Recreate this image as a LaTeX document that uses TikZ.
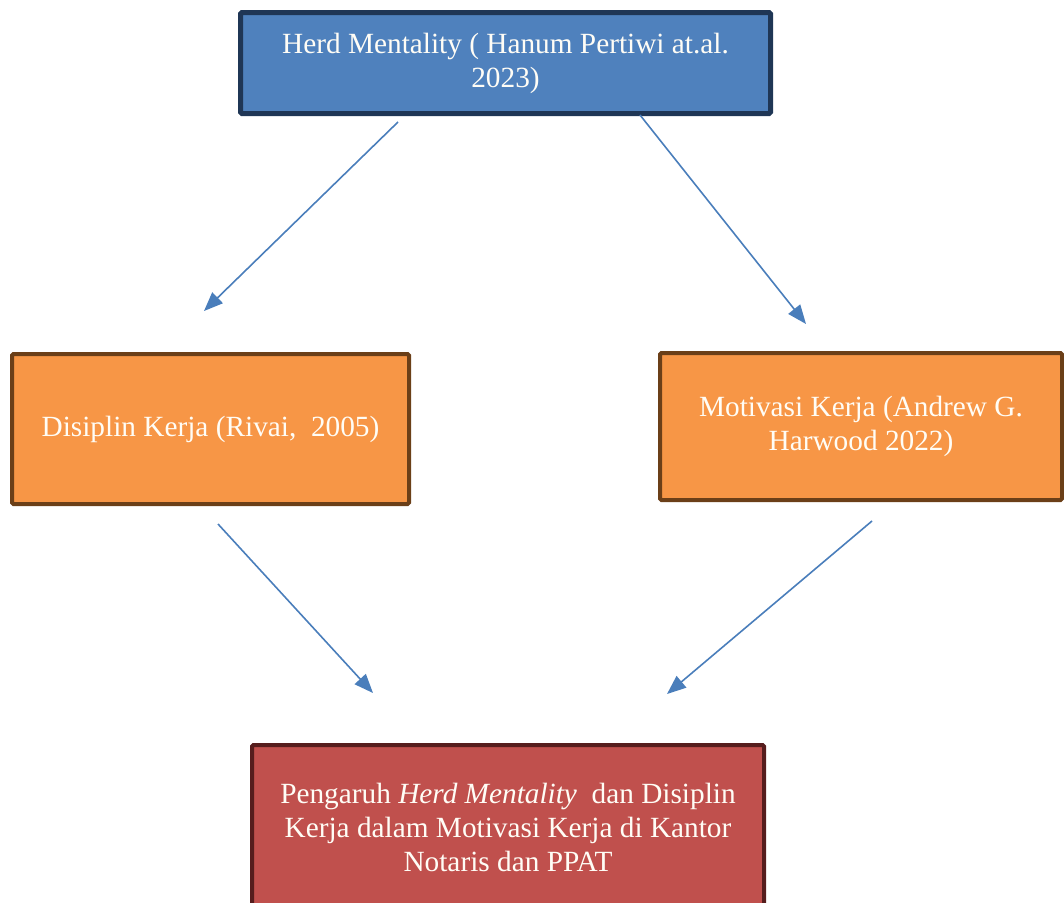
\documentclass[tikz,border=0pt]{standalone}
\usepackage{fontspec}
\setmainfont{Liberation Serif}
\usetikzlibrary{arrows.meta}
\definecolor{boxblue}{HTML}{4F81BD}
\definecolor{bordblue}{HTML}{1F3655}
\definecolor{boxorange}{HTML}{F79646}
\definecolor{bordorange}{HTML}{6B3F18}
\definecolor{boxred}{HTML}{C0504D}
\definecolor{bordred}{HTML}{561D1D}
\definecolor{arrowblue}{HTML}{4A7EBB}
\definecolor{txt}{HTML}{FFFDF6}
\tikzset{
  box/.style={draw, rectangle, rounded corners=1.5pt, inner sep=0pt, align=center,
    text=txt, font=\fontsize{29.3}{34}\selectfont},
  conn/.style={draw=arrowblue, line width=1.6pt, -{Triangle[length=19pt,width=15pt]}, fill=arrowblue}
}
\begin{document}
\begin{tikzpicture}[x=1pt,y=-1pt]
\useasboundingbox (0,0) rectangle (1064,902);
\begin{scope}
\clip (0,0) rectangle (1064,902);
\node[box, fill=boxblue, draw=bordblue, line width=5pt, minimum width=530pt, minimum height=101pt]
  (herd) at (505.5,63) {Herd Mentality ( Hanum Pertiwi at.al.\\2023)};
\node[box, fill=boxorange, draw=bordorange, line width=4pt, minimum width=397pt, minimum height=150pt]
  (disiplin) at (210.5,429) {Disiplin Kerja (Rivai,\ \ 2005)};
\node[box, fill=boxorange, draw=bordorange, line width=4pt, minimum width=402pt, minimum height=147pt]
  (motivasi) at (861,426.5) {Motivasi Kerja (Andrew G.\\Harwood 2022)};
\node[box, fill=boxred, draw=bordred, line width=4pt, minimum width=512pt, minimum height=164pt]
  (pengaruh) at (508,827) {Pengaruh \textit{Herd Mentality}\ \ dan Disiplin\\Kerja dalam Motivasi Kerja di Kantor\\Notaris dan PPAT};
\end{scope}
\coordinate (a1s) at (398,122);
\coordinate (a1e) at (204,311);
\coordinate (a2s) at (640,115);
\coordinate (a2e) at (806,324);
\coordinate (a3s) at (218,524);
\coordinate (a3e) at (373,693);
\coordinate (a4s) at (872,521);
\coordinate (a4e) at (667,694);
\draw[conn] (a1s) -- (a1e);
\draw[conn] (a2s) -- (a2e);
\draw[conn] (a3s) -- (a3e);
\draw[conn] (a4s) -- (a4e);
\end{tikzpicture}
\end{document}
